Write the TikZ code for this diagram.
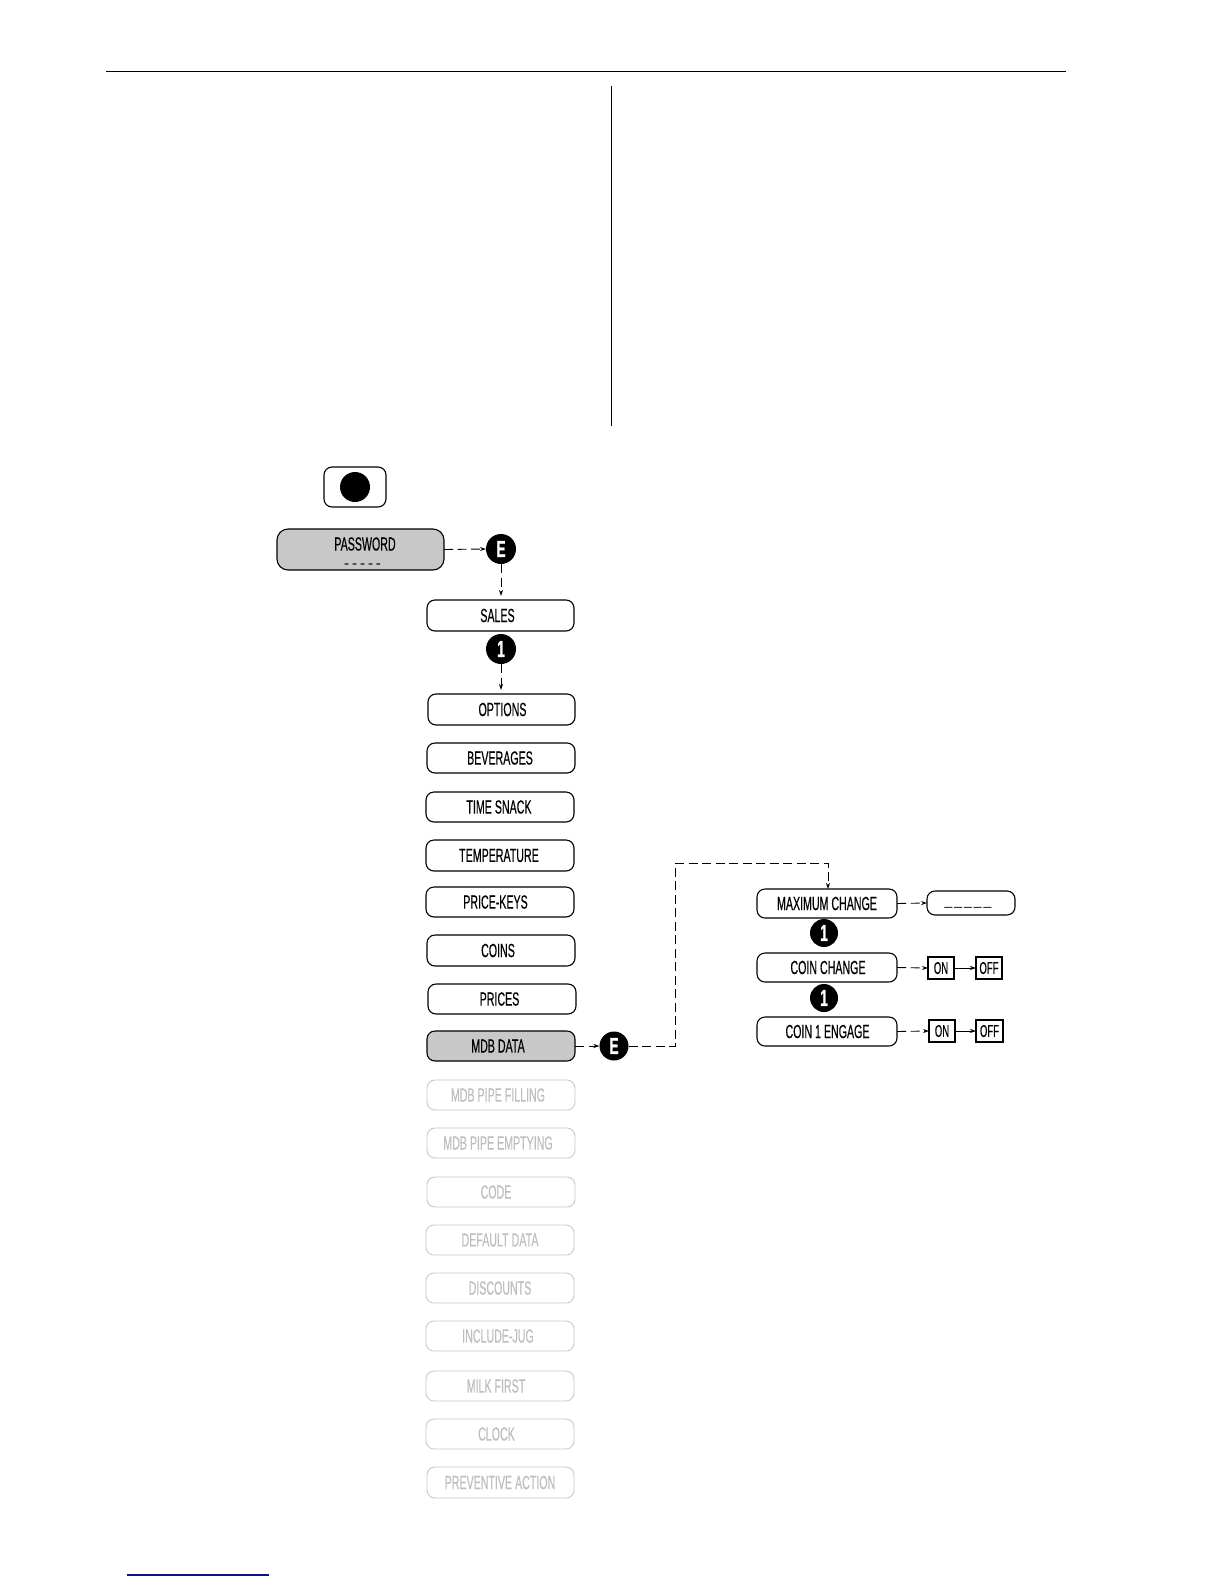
\documentclass[tikz,border=0pt]{standalone}
\usepackage{fontspec}
\setmainfont{Liberation Sans}
\newfontfamily\cond[FakeStretch=0.56,FakeBold=0.35]{Liberation Sans}
\newfontfamily\condghost[FakeStretch=0.56,FakeBold=0.2]{Liberation Sans}
\newfontfamily\condb[FakeStretch=0.6,FakeBold=1]{Liberation Sans Bold}
\usetikzlibrary{arrows.meta}
\definecolor{ghost}{HTML}{BEBEBE}
\definecolor{shade}{HTML}{C8C8C8}
\definecolor{linkblue}{HTML}{10108C}
\tikzset{
  boxbase/.style={draw=black,line width=1.1pt,rounded corners=8pt,inner sep=0pt,outer sep=0pt},
  ghostbox/.style={draw=ghost!85,line width=0.9pt,rounded corners=8pt,inner sep=0pt,outer sep=0pt},
  lab/.style={font=\cond\fontsize{19}{19}\selectfont,inner sep=0pt,text=black},
  ghostlab/.style={font=\condghost\fontsize{19}{19}\selectfont,inner sep=0pt,text=ghost},
  small/.style={draw=black,line width=1.1pt,inner sep=0pt,outer sep=0pt,font=\cond\fontsize{17}{17}\selectfont},
  badge/.style={circle,fill=black,draw=none,minimum size=30pt,inner sep=0pt,outer sep=0pt,text=white,font=\condb\fontsize{23}{23}\selectfont},
  link/.style={draw=black,line width=0.9pt,dash pattern=on 9pt off 4.5pt,-{Stealth[length=6pt,width=4pt]}},
  solidlink/.style={draw=black,line width=0.9pt,-{Stealth[length=6pt,width=4pt]}},
  rule/.style={draw=black,line width=0.9pt}
}
% name, x1, x2, y1, y2, style, label style, label x, text
\newcommand{\menubox}[9]{%
  \node[#6,minimum width=#3pt-#2pt,minimum height=#5pt-#4pt,anchor=north west] (#1) at (#2,#4) {};
  \node[#7,anchor=center] (#1t) at (#8,{(#4+#5)/2}) {#9};
}
\begin{document}
\begin{tikzpicture}[x=1pt,y=-1pt]
\useasboundingbox (0,0) rectangle (1224,1584);
\fill[white] (0,0) rectangle (1224,1584);

\coordinate (ruleA) at (106,71.7);
\coordinate (ruleB) at (1066,71.7);
\draw[rule] (ruleA) -- (ruleB);
\coordinate (vA) at (611,86);
\coordinate (vB) at (611,426);
\draw[rule] (vA) -- (vB);
\coordinate (blueA) at (127,1575);
\coordinate (blueB) at (269,1575);
\draw[draw=linkblue,line width=1.1pt] (blueA) -- (blueB);

\node[boxbase,minimum width=62pt,minimum height=40pt,anchor=north west] (btn) at (324,467) {};
\node[circle,fill=black,minimum size=30pt,inner sep=0pt] (btndot) at (btn.center) {};

\node[boxbase,rounded corners=11pt,fill=shade,minimum width=167pt,minimum height=41pt,anchor=north west] (pw) at (277,529) {};
\node[lab,anchor=center] (pwt) at (365,544) {PASSWORD};
\node[inner sep=0pt,font=\fontsize{15}{15}\selectfont,anchor=center] (pwd) at (362.5,566) {-\hspace{3pt}-\hspace{3pt}-\hspace{3pt}-\hspace{3pt}-};

\node[badge] (e1) at (501,549) {E};
\menubox{sales}{427}{574}{600}{631}{boxbase}{lab}{497.5}{SALES}
\node[badge] (one1) at (501,649) {1};
\menubox{options}{428}{575}{694}{725}{boxbase}{lab}{502.5}{OPTIONS}
\menubox{bev}{427}{575}{743}{773}{boxbase}{lab}{500}{BEVERAGES}
\menubox{snack}{426}{574}{792}{822}{boxbase}{lab}{499}{TIME SNACK}
\menubox{temp}{426}{574}{840}{871}{boxbase}{lab}{499}{TEMPERATURE}
\menubox{keys}{426}{574}{887}{917}{boxbase}{lab}{495.5}{PRICE-KEYS}
\menubox{coins}{427}{575}{935}{966}{boxbase}{lab}{498}{COINS}
\menubox{prices}{428}{576}{984}{1014}{boxbase}{lab}{499.5}{PRICES}
\menubox{mdb}{427}{575}{1031}{1061}{boxbase,fill=shade}{lab}{498}{MDB DATA}
\menubox{fill}{427}{575}{1080}{1110}{ghostbox}{ghostlab}{498}{MDB PIPE FILLING}
\menubox{empty}{427}{575}{1128}{1158}{ghostbox}{ghostlab}{498}{MDB PIPE EMPTYING}
\menubox{code}{427}{575}{1177}{1207}{ghostbox}{ghostlab}{496}{CODE}
\menubox{default}{426}{574}{1225}{1255}{ghostbox}{ghostlab}{500}{DEFAULT DATA}
\menubox{disc}{426}{574}{1273}{1303}{ghostbox}{ghostlab}{500}{DISCOUNTS}
\menubox{jug}{426}{574}{1321}{1351}{ghostbox}{ghostlab}{498}{INCLUDE-JUG}
\menubox{milk}{426}{574}{1371}{1401}{ghostbox}{ghostlab}{496}{MILK FIRST}
\menubox{clock}{426}{574}{1419}{1449}{ghostbox}{ghostlab}{496.5}{CLOCK}
\menubox{prev}{427}{574}{1467}{1498}{ghostbox}{ghostlab}{500}{PREVENTIVE ACTION}

\node[badge,minimum size=29pt] (e2) at (614,1046) {E};
\menubox{maxc}{757}{897}{889}{918}{boxbase}{lab}{827}{MAXIMUM CHANGE}
\node[badge,minimum size=28pt] (one2) at (824,933) {1};
\menubox{cchg}{757}{897}{953}{982}{boxbase}{lab}{828}{COIN CHANGE}
\node[badge,minimum size=28pt] (one3) at (824,998) {1};
\menubox{cen}{757}{897}{1017}{1046}{boxbase}{lab}{827.5}{COIN 1 ENGAGE}
\node[boxbase,minimum width=88pt,minimum height=24pt,anchor=north west] (val) at (927,891) {};
\node[inner sep=0pt,font=\fontsize{14}{14}\selectfont,anchor=center] (valt) at (968,907) {\_\hspace{2pt}\_\hspace{2pt}\_\hspace{2pt}\_\hspace{2pt}\_};
\node[small,minimum width=26pt,minimum height=22pt,anchor=north west] (on1) at (928,957) {ON};
\node[small,minimum width=26pt,minimum height=22pt,anchor=north west] (off1) at (976,957) {OFF};
\node[small,minimum width=26pt,minimum height=22pt,anchor=north west] (on2) at (929,1020) {ON};
\node[small,minimum width=27pt,minimum height=22pt,anchor=north west] (off2) at (976,1020) {OFF};

\draw[link] (pw.east) -- (e1.west);
\draw[link,shorten >=4pt] (e1.south) -- (e1 |- sales.north);
\draw[link,shorten >=4pt] (one1.south) -- (one1 |- options.north);
\draw[link] (mdb.east) -- (e2.west);
\coordinate (corner1) at (675,1046);
\coordinate (corner2) at (675,863);
\coordinate (corner3) at (828,863);
\draw[link] (e2.east) -- (corner1) -- (corner2) -- (corner3) -- (corner3 |- maxc.north);
\draw[link] (maxc.east) -- (val.west);
\draw[link] (cchg.east) -- (on1.west);
\draw[solidlink] (on1.east) -- (off1.west);
\draw[link] (cen.east) -- (on2.west);
\draw[solidlink] (on2.east) -- (off2.west);
\end{tikzpicture}
\end{document}
